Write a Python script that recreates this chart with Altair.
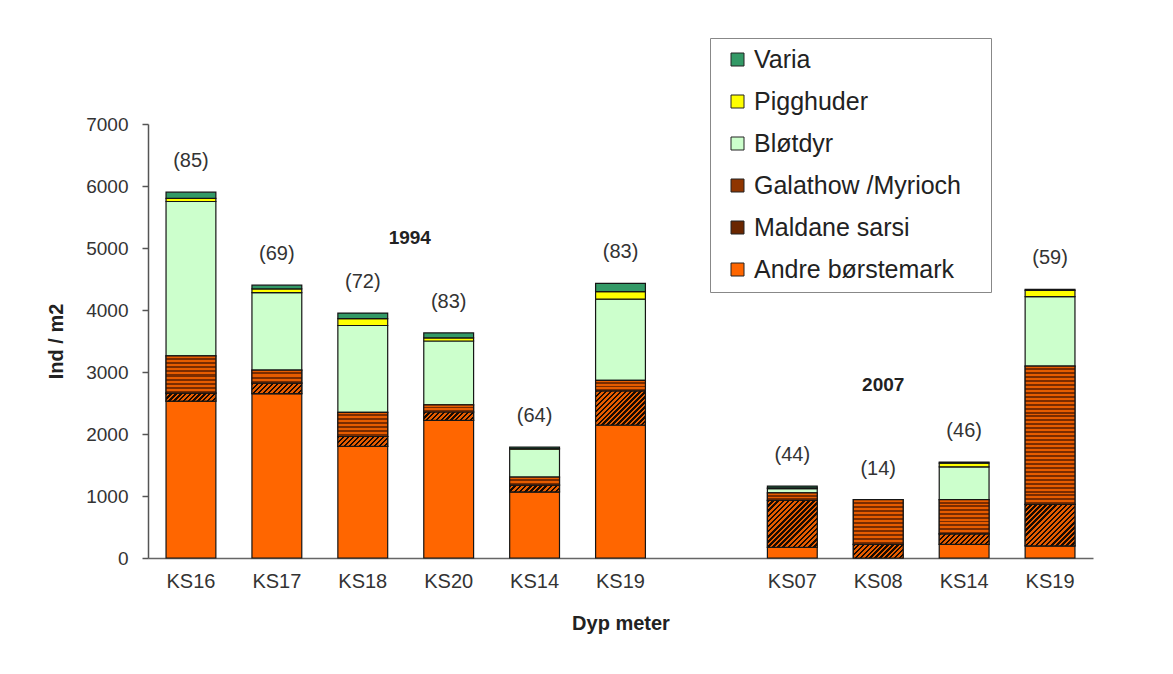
import altair as alt
import pandas as pd

# ---------------- data ----------------
stations = ["KS16", "KS17", "KS18", "KS20", "KS14", "KS19", "KS07", "KS08", "KS14", "KS19"]
years = ["1994", "1994", "1994", "1994", "1994", "1994", "2007", "2007", "2007", "2007"]
andre = [2530, 2650, 1800, 2220, 1065, 2145, 170, 0, 220, 195]
maldane = [130, 170, 160, 135, 110, 550, 760, 220, 170, 670]
galathow = [600, 210, 390, 115, 130, 170, 120, 720, 550, 2230]
blotdyr = [2490, 1250, 1400, 1030, 450, 1310, 70, 0, 530, 1120]
pigghuder = [50, 60, 110, 50, 15, 120, 10, 0, 60, 100]
varia = [100, 60, 90, 80, 20, 135, 30, 0, 15, 20]
n_species = [85, 69, 72, 83, 64, 83, 44, 14, 46, 59]

groups_bottom_up = ["Andre børstemark", "Maldane sarsi", "Galathow /Myrioch", "Bløtdyr", "Pigghuder", "Varia"]
series = [andre, maldane, galathow, blotdyr, pigghuder, varia]
legend_order = ["Varia", "Pigghuder", "Bløtdyr", "Galathow /Myrioch", "Maldane sarsi", "Andre børstemark"]
legend_colors = ["#339966", "#ffff00", "#ccffcc", "#8f3500", "#6a2600", "#ff6600"]

year_labels = ["1994", "2007"]
year_anchor = ["KS18|1994", "KS08|2007"]
year_y = [5166, 2790]
year_dx = [47, 5]

# ---------------- layout / style ----------------
W, H = 945, 434
YMAX = 7000
FONT = "Liberation Sans"
P_IN, P_OUT = 0.42, 0.21

keys = [f"{s}|{y}" for s, y in zip(stations, years)]
domain = keys[:6] + ["gap"] + keys[6:]
step = W / (len(domain) - P_IN + 2 * P_OUT)
bw = step * (1 - P_IN)

rows = []
for i, k in enumerate(keys):
    cum = 0
    for g, vals in zip(groups_bottom_up, series):
        v = vals[i]
        if v > 0:
            rows.append(dict(key=k, group=g, y0=cum, y1=cum + v))
            cum += v
df = pd.DataFrame(rows)

totals = pd.DataFrame({
    "key": keys,
    "y0": [sum(s[i] for s in series) for i in range(len(keys))],
    "label": [f"({n})" for n in n_species],
})

xscale = alt.Scale(domain=domain, paddingInner=P_IN, paddingOuter=P_OUT)
yscale = alt.Scale(domain=[0, YMAX], nice=False)

xaxis = alt.Axis(labelExpr="datum.value == 'gap' ? '' : split(datum.value, '|')[0]",
                 labelAngle=0, ticks=False, tickSize=0, labelPadding=13,
                 labelFontSize=20, labelFont=FONT, labelColor="#333",
                 titleFontSize=20, titleFont=FONT, titleFontWeight="bold",
                 titleColor="#222", titlePadding=22,
                 domainColor="#666", domainWidth=1.5)
yaxis = alt.Axis(values=list(range(0, YMAX + 1, 1000)), format="d", grid=False,
                 tickSize=6, tickColor="#555", tickWidth=1.5,
                 labelPadding=14, labelFontSize=19, labelFont=FONT, labelColor="#333",
                 titleFontSize=20, titleFont=FONT, titleFontWeight="bold",
                 titleColor="#222", titlePadding=19,
                 domainColor="#555", domainWidth=1.5)


def X():
    return alt.X("key:N", scale=xscale, sort=domain, title="Dyp meter", axis=xaxis)


def Y():
    return alt.Y("y0:Q", scale=yscale, title="Ind / m2", axis=yaxis)


base = alt.Chart(df).mark_bar(stroke="#151515", strokeWidth=1.2).encode(
    x=X(), y=Y(), y2="y1:Q",
    color=alt.Color("group:N", scale=alt.Scale(domain=legend_order, range=legend_colors),
                    legend=alt.Legend(title=None, orient="none", legendX=562, legendY=-86,
                                      symbolType="square", symbolSize=169,
                                      symbolStrokeColor="#222", symbolStrokeWidth=1,
                                      labelFontSize=25, labelFont=FONT, labelColor="#222",
                                      labelOffset=4, rowPadding=16, padding=9,
                                      symbolOffset=6, labelLimit=500,
                                      labelExpr="datum.label + '" + "\u00a0" * 3 + "\u200b'",
                                      strokeColor="#888", fillColor="white")),
)


def hstripe_grad(h_px, gid, c1="#e65c00", c2="#7a2c00", period=4.0):
    n = max(1, round(h_px / period))
    stops = []
    for i in range(n):
        a, b, c = i / n, (i + 0.5) / n, (i + 1) / n
        stops += [alt.GradientStop(offset=a, color=c1), alt.GradientStop(offset=b, color=c1),
                  alt.GradientStop(offset=b, color=c2), alt.GradientStop(offset=c, color=c2)]
    return alt.LinearGradient(gradient="linear", stops=stops, x1=0, y1=0, x2=0, y2=1, id=gid)


def diag_grad(w, h_px, gid, c1="#1a0a00", c2="#e65c00", period=5.0):
    span = w + h_px
    n = max(1, round(span / period))
    stops = []
    for i in range(n):
        a, b, c = i / n, (i + 0.5) / n, (i + 1) / n
        stops += [alt.GradientStop(offset=a, color=c1), alt.GradientStop(offset=b, color=c1),
                  alt.GradientStop(offset=b, color=c2), alt.GradientStop(offset=c, color=c2)]
    d = w * w + h_px * h_px
    return alt.LinearGradient(gradient="linear", stops=stops, x1=0, y1=0,
                              x2=w * span / d, y2=h_px * span / d, id=gid)


overlays = []
for j, r in df.iterrows():
    if r["group"] not in ("Galathow /Myrioch", "Maldane sarsi"):
        continue
    h_px = (r["y1"] - r["y0"]) * H / YMAX
    gid = f"pat{j}"
    if r["group"] == "Galathow /Myrioch":
        grad = hstripe_grad(h_px, gid)
    else:
        grad = diag_grad(bw, h_px, gid)
    overlays.append(
        alt.Chart(pd.DataFrame([r])).mark_bar(fill=grad, stroke="#151515", strokeWidth=1.2).encode(
            x=X(), y=Y(), y2="y1:Q",
        )
    )

labels = alt.Chart(totals).mark_text(dy=-31, fontSize=20, font=FONT, color="#333").encode(
    x=X(), y=Y(), text="label:N",
)

year_layers = []
for t, k, yv, dx in zip(year_labels, year_anchor, year_y, year_dx):
    year_layers.append(
        alt.Chart(pd.DataFrame({"key": [k], "y0": [yv], "t": [t]}))
        .mark_text(dx=dx, fontSize=19, font=FONT, fontWeight="bold", color="#222")
        .encode(x=X(), y=Y(), text="t:N")
    )

chart = alt.layer(base, *overlays, labels, *year_layers).properties(
    width=W, height=H, background="white",
    padding={"left": 38, "top": 29, "right": 5, "bottom": 5},
).configure_view(strokeWidth=0, stroke="transparent")

chart.save("out.html", embed_options={"renderer": "svg", "actions": False})
